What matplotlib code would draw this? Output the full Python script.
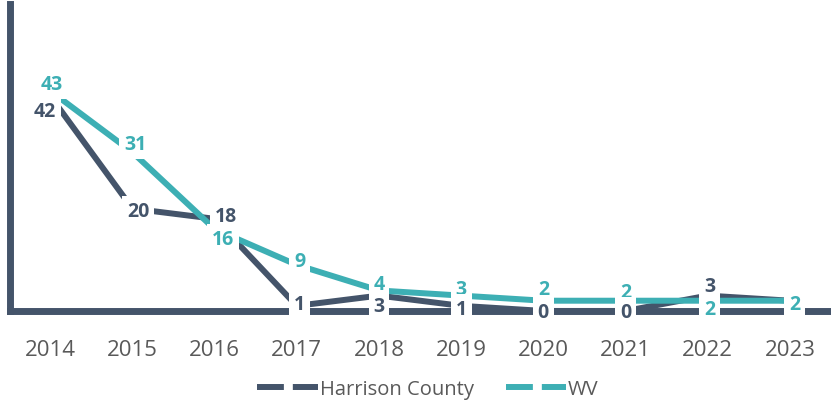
import matplotlib
matplotlib.use("Agg")
import matplotlib.pyplot as plt
from matplotlib.lines import Line2D

# ── data ────────────────────────────────────────────────────────────────────
years = ["2014", "2015", "2016", "2017", "2018", "2019", "2020", "2021", "2022", "2023"]
harrison = [42, 20, 18, 1, 3, 1, 0, 0, 3, 2]
wv = [43, 31, 16, 9, 4, 3, 2, 2, 2, 2]

# ── style ───────────────────────────────────────────────────────────────────
DARK = "#44546A"
TEAL = "#3DAFB4"
TICK = "#595959"
plt.rcParams["font.family"] = ["Open Sans", "DejaVu Sans"]

# label offsets (display pixels) so they sit where the original chart put them
harrison_off = [(-5, -15), (6, -2), (11, 3), (3, 2), (0, -10),
                (0, -3), (0, -1), (0, -1), (2, 10), (5, -3)]
wv_off = [(2, 7), (3, 8), (8, -10), (3, 4), (0, 6),
          (0, 7), (0, 12), (0, 9), (2, -8), (5, -3)]

fig = plt.figure(figsize=(8.31, 4.02), dpi=100)
ax = fig.add_axes([0.012, 0.224, 0.988, 0.764])

x = range(len(years))
ax.plot(x, harrison, color=DARK, lw=4.3, solid_capstyle="butt", zorder=3, clip_on=False)
ax.plot(x, wv, color=TEAL, lw=4.3, solid_capstyle="butt", zorder=3.1, clip_on=False)

box = dict(boxstyle="square,pad=0.25", fc="white", ec="none")
# WV labels first, Harrison on top (the lower Harrison labels must stay readable)
for series, offs, col, z in [(wv, wv_off, TEAL, 5), (harrison, harrison_off, DARK, 6)]:
    for i, (v, off) in enumerate(zip(series, offs)):
        if series is harrison and i == len(years) - 1:
            continue  # hidden behind the WV label in the original
        ax.annotate(str(v), (i, v), xytext=off, textcoords="offset pixels",
                    ha="center", va="center", fontsize=14, fontweight="bold",
                    color=col, bbox=box, zorder=z, annotation_clip=False)

ax.set_xlim(-0.49, 9.5)
ax.set_ylim(0, 60)
ax.set_xticks(list(x))
ax.set_xticklabels(years, fontsize=16, color=TICK)
ax.set_yticks([])
ax.tick_params(axis="x", length=0, pad=20)

for side in ["top", "right"]:
    ax.spines[side].set_visible(False)
for side in ["left", "bottom"]:
    ax.spines[side].set_color(DARK)
    ax.spines[side].set_linewidth(5)
    ax.spines[side].set_zorder(2.5)

handles = [
    Line2D([], [], color=DARK, lw=4.3, ls=(0, (4.5, 1.5))),
    Line2D([], [], color=TEAL, lw=4.3, ls=(0, (4.5, 1.5))),
]
fig.legend(handles, ["Harrison County", "WV"], loc="center",
           bbox_to_anchor=(0.515, 0.03), ncol=2, frameon=False,
           fontsize=14.5, handlelength=3.0, handletextpad=0.1, columnspacing=1.6,
           labelcolor=TICK)

fig.savefig("out.png", dpi=100)
